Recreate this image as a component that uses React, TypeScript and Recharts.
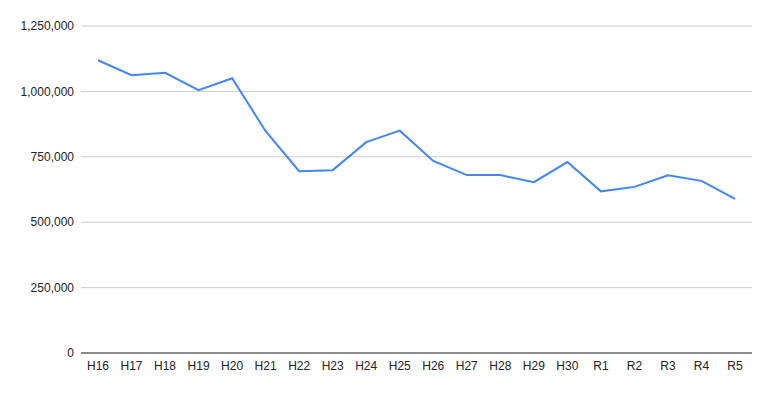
import React from "react";
import { LineChart, Line, XAxis, YAxis, CartesianGrid } from "recharts";

const categories = ["H16","H17","H18","H19","H20","H21","H22","H23","H24","H25","H26","H27","H28","H29","H30","R1","R2","R3","R4","R5"];
const values = [1119000,1062000,1071000,1005000,1050000,848000,695000,699000,806000,850000,734000,680000,680000,653000,730000,618000,635000,679000,658000,589000];
const yTicks = [0, 250000, 500000, 750000, 1000000, 1250000];

const data = categories.map((c, i) => ({ name: c, value: values[i] }));

const fmt = (v: number) => v.toLocaleString("en-US");

export default function App() {
  return (
    <div style={{ position: "absolute", left: 0, top: 0, width: 772, height: 393, background: "#fff" }}>
      <LineChart width={772} height={393} data={data} margin={{ top: 26, right: 20, bottom: 10, left: 0 }}>
        <CartesianGrid vertical={false} stroke="#cccccc" strokeWidth={1} />
        <XAxis
          dataKey="name"
          height={30}
          padding={{ left: 17, right: 17 }}
          axisLine={{ stroke: "#333333", strokeWidth: 1 }}
          tickLine={false}
          tickSize={0}
          tickMargin={8}
          interval={0}
          tick={{ fill: "#222222", fontSize: 12, fontFamily: "Liberation Sans, Arial, sans-serif" }}
        />
        <YAxis
          width={81}
          domain={[0, 1250000]}
          ticks={yTicks}
          tickFormatter={fmt}
          axisLine={false}
          tickLine={false}
          tickSize={0}
          tickMargin={7}
          tick={{ fill: "#222222", fontSize: 12, fontFamily: "Liberation Sans, Arial, sans-serif" }}
        />
        <Line type="linear" dataKey="value" stroke="#4285F4" strokeWidth={2} dot={false} isAnimationActive={false} />
      </LineChart>
    </div>
  );
}
